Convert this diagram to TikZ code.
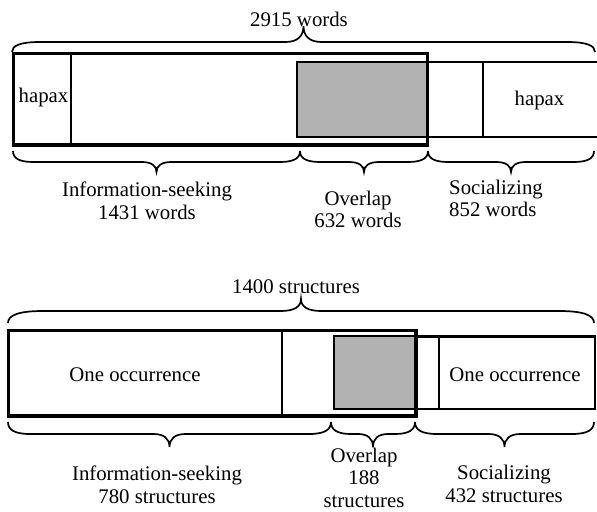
\documentclass[tikz,border=0pt]{standalone}
\usepackage{fontspec}
\setmainfont{Liberation Serif}
% horizontal curly brace: x1, x2, y of ends, y of line, y of tip, end width, tip width
\newcommand\hbrace[7]{%
  \pgfmathsetmacro\bxm{(#1+#2)/2}%
  \draw[bracestyle] ({#1},{#3}) .. controls ({#1},{#4+0.35*(#3-#4)}) and ({#1+0.3*#6},{#4}) .. ({#1+#6},{#4})
    -- ({\bxm-#7},{#4}) .. controls ({\bxm-0.35*#7},{#4}) and ({\bxm},{#4+0.35*(#5-#4)}) .. ({\bxm},{#5})
    .. controls ({\bxm},{#4+0.35*(#5-#4)}) and ({\bxm+0.35*#7},{#4}) .. ({\bxm+#7},{#4})
    -- ({#2-#6},{#4}) .. controls ({#2-0.3*#6},{#4}) and ({#2},{#4+0.35*(#3-#4)}) .. ({#2},{#3});%
}
\begin{document}
\begin{tikzpicture}[x=1bp,y=-1bp,
  thickbox/.style={draw, line width=3.3bp},
  thinbox/.style={draw, line width=1.5bp},
  midbox/.style={draw, line width=2.2bp},
  shadebox/.style={fill=black!30, draw},
  bracestyle/.style={draw, line width=1.7bp},
  lbl/.style={font=\fontsize{20.8bp}{22.5bp}\selectfont, inner sep=0pt, align=center}
]
\useasboundingbox (0,0) rectangle (597,512);

% ---------- top diagram ----------
\draw[thinbox] (297,62) rectangle (605,137);
\draw[thinbox] (483,62) -- (483,137);
\draw[shadebox, line width=1.5bp] (297,62) rectangle (427,137);
\draw[thinbox] (71,54) -- (71,145);
\draw[thickbox] (13.5,53.5) rectangle (427.5,145);

\node[lbl, anchor=base] (hapL) at (43.5,103) {hapax};
\node[lbl, anchor=base] (hapR) at (539.5,106) {hapax};

\hbrace{12}{595}{52}{42}{26}{28}{18}
\node[lbl, anchor=base] (tot1) at (299,27) {2915 words};

\hbrace{13}{300}{151}{162}{172}{20}{15}
\hbrace{300}{428}{151}{162}{172}{20}{15}
\hbrace{428}{594}{151}{162}{172}{20}{15}

% anchor=base of a multi-line node is the baseline of its last line
\node[lbl, anchor=base] (info1) at (147,219.5) {Information-seeking\\1431 words};
\node[lbl, anchor=base] (over1) at (358,228) {Overlap\\632 words};
\node[lbl, anchor=base west, align=left] (soc1) at (449,217) {Socializing\\852 words};

% ---------- bottom diagram ----------
\draw[midbox] (334,336.5) rectangle (595,409);
\draw[midbox] (439,336.5) -- (439,409);
\draw[shadebox, line width=2.6bp] (334,336) rectangle (415,409);
\draw[midbox] (282,330) -- (282,416);
\draw[thickbox] (8.5,330.5) rectangle (416,416);

\node[lbl, anchor=base] (one1) at (135,381) {One occurrence};
\node[lbl, anchor=base] (one2) at (515,381) {One occurrence};

\hbrace{8}{594}{323}{311}{299}{35}{20}
\node[lbl, anchor=base] (tot2) at (296,293) {1400 structures};

\hbrace{8}{331}{422}{434}{447}{22}{16}
\hbrace{331}{415}{422}{434}{447}{20}{15}
\hbrace{415}{594}{422}{434}{447}{22}{16}

\node[lbl, anchor=base] (info2) at (157,503) {Information-seeking\\780 structures};
\node[lbl, anchor=base] (over2) at (364,507) {Overlap\\188\\structures};
\node[lbl, anchor=base] (soc2) at (504,502) {Socializing\\432 structures};
\end{tikzpicture}
\end{document}
